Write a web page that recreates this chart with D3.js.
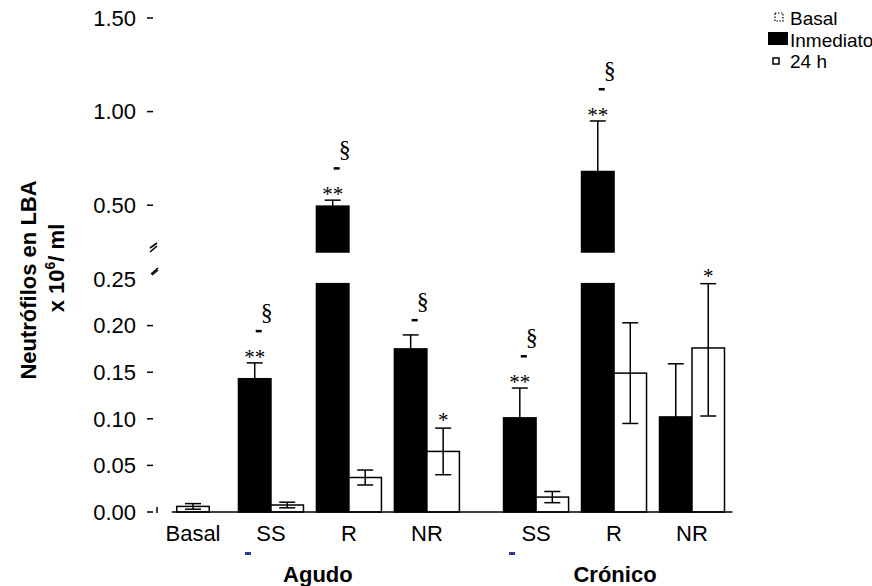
<!DOCTYPE html>
<html>
<head>
<meta charset="utf-8">
<script src="https://cdn.jsdelivr.net/npm/d3@7"></script>
<style>
    body { margin: 0; background: #fff; }
    text { font-family: "Liberation Sans", Arial, sans-serif; }
    .serif { font-family: "Liberation Serif", "Times New Roman", serif; }
</style>
</head>
<body>
<div id="chart"></div>
<script>

// Data
var categories = ["Basal", "SS", "R", "NR", "SS", "R", "NR"];
var phases = ["Agudo", "Crónico"];
var basalValue = [0.006];
var basalError = [0.003];
// SS, R, NR (Agudo) then SS, R, NR (Crónico)
var inmediato = [0.143, 0.495, 0.175, 0.101, 0.680, 0.102];
var inmediatoErr = [0.017, 0.032, 0.015, 0.032, 0.270, 0.057];
var h24 = [0.0075, 0.037, 0.065, 0.016, 0.149, 0.176];
var h24Err = [0.003, 0.008, 0.025, 0.006, 0.054, 0.073];
var inmediatoMarks = [["**", "-", "§"], ["**", "-", "§"], ["-", "§"], ["**", "-", "§"], ["**", "-", "§"], []];
var h24Marks = ["", "", "*", "", "", "*"];
var lowTicks = [0, 0.05, 0.10, 0.15, 0.20, 0.25];
var highTicks = [0.50, 1.00, 1.50];
var legendLabels = ["Basal", "Inmediato", "24 h"];

var width = 872, height = 586;

var svg = d3.select("#chart").append("svg")
    .attr("width", width)
    .attr("height", height);

// Broken y axis: two linear pieces
var baseY = 512;
var breakLow = 0.245;
var yLow = d3.scaleLinear().domain([0, 0.25]).range([baseY, 279]);
var yHigh = d3.scaleLinear().domain([0.25, 1.5]).range([252, 18]);
var yPos = function(v) { return v <= breakLow ? yLow(v) : yHigh(v); };

// x slots, with a small gap between Agudo and Crónico
var slot = function(i) { return i >= 4 ? i + 0.4 : i; };
var x = d3.scaleLinear().domain([0, slot(6)]).range([193, 692]);
var barW = 32.5;
var capW = 16;

// Build the bar list
var bars = [{ x0: x(0) - barW / 2, v: basalValue[0], err: basalError[0], fill: "#fff", both: true, marks: [] }];
inmediato.forEach(function(v, i) {
    var cx = x(slot(i + 1));
    bars.push({ x0: cx - barW, v: v, err: inmediatoErr[i], fill: "#000", both: false, marks: inmediatoMarks[i] });
    bars.push({ x0: cx, v: h24[i], err: h24Err[i], fill: "#fff", both: true, marks: h24Marks[i] ? [h24Marks[i]] : [] });
});

var barG = svg.append("g");

bars.forEach(function(b) {
    var pieces = b.v <= breakLow ? [[0, b.v, yLow]] : [[0, breakLow, yLow], [0.25, b.v, yHigh]];
    pieces.forEach(function(p) {
        barG.append("rect")
            .attr("x", b.x0)
            .attr("y", p[2](p[1]))
            .attr("width", barW)
            .attr("height", p[2](p[0]) - p[2](p[1]))
            .attr("fill", b.fill)
            .attr("stroke", "#000")
            .attr("stroke-width", 1.5);
    });

    // Error bars
    var cx = b.x0 + barW / 2;
    var hi = b.v + b.err;
    if (b.v <= breakLow) hi = Math.min(hi, breakLow);
    var lo = b.both ? b.v - b.err : b.v;
    var yTop = yPos(hi), yBot = yPos(lo);
    barG.append("line")
        .attr("x1", cx).attr("x2", cx)
        .attr("y1", yTop).attr("y2", yBot)
        .attr("stroke", "#000").attr("stroke-width", 1.5);
    barG.append("line")
        .attr("x1", cx - capW / 2).attr("x2", cx + capW / 2)
        .attr("y1", yTop).attr("y2", yTop)
        .attr("stroke", "#000").attr("stroke-width", 1.5);
    if (b.both) {
        barG.append("line")
            .attr("x1", cx - capW / 2).attr("x2", cx + capW / 2)
            .attr("y1", yBot).attr("y2", yBot)
            .attr("stroke", "#000").attr("stroke-width", 1.5);
    }

    // Significance marks stacked above the error bar
    var hasStars = b.marks.indexOf("**") >= 0;
    b.marks.forEach(function(m) {
        if (m === "**") {
            barG.append("text").attr("class", "serif")
                .attr("x", cx).attr("y", yTop + 1)
                .attr("text-anchor", "middle")
                .style("font-size", "21px")
                .text("**");
        } else if (m === "*") {
            barG.append("text").attr("class", "serif")
                .attr("x", cx).attr("y", yTop - 1)
                .attr("text-anchor", "middle")
                .style("font-size", "21px")
                .text("*");
        } else if (m === "-") {
            var dy = hasStars ? 32 : 15;
            barG.append("rect")
                .attr("x", cx + 1).attr("y", yTop - dy - 1)
                .attr("width", 6).attr("height", 2.5)
                .attr("fill", "#000");
        } else if (m === "§") {
            var dy2 = hasStars ? 50 : 33;
            barG.append("text").attr("class", "serif")
                .attr("x", cx + 12).attr("y", yTop - dy2 + 7)
                .attr("text-anchor", "middle")
                .style("font-size", "24px")
                .text("§");
        }
    });
});

// Baseline
svg.append("line")
    .attr("x1", x(0) - barW / 2 - 5).attr("x2", x(slot(6)) + barW + 8)
    .attr("y1", baseY).attr("y2", baseY)
    .attr("stroke", "#000").attr("stroke-width", 1.5);

// Y axis: tick dashes and labels, no axis line
var axisG = svg.append("g");
var tickList = lowTicks.map(function(t) { return { v: t, y: yLow(t), dash: t < 0.25 }; })
    .concat(highTicks.map(function(t) { return { v: t, y: yHigh(t), dash: true }; }));

tickList.forEach(function(t) {
    axisG.append("text")
        .attr("x", 136).attr("y", t.y)
        .attr("dy", "0.35em")
        .attr("text-anchor", "end")
        .style("font-size", "22px")
        .text(d3.format(".2f")(t.v));
    if (t.dash) {
        axisG.append("line")
            .attr("x1", 147).attr("x2", 153)
            .attr("y1", t.y).attr("y2", t.y)
            .attr("stroke", "#000").attr("stroke-width", 1.5);
    }
});
// small extra mark at zero
axisG.append("line")
    .attr("x1", 157).attr("x2", 157)
    .attr("y1", baseY - 5).attr("y2", baseY + 1)
    .attr("stroke", "#000").attr("stroke-width", 1.5);

// Break marks
var brk = axisG.append("g").attr("stroke", "#000").attr("stroke-width", 1.6);
brk.append("line").attr("x1", 150).attr("y1", 252).attr("x2", 157).attr("y2", 246);
brk.append("line").attr("x1", 150).attr("y1", 248).attr("x2", 157).attr("y2", 243);
brk.append("line").attr("x1", 151).attr("y1", 274).attr("x2", 158).attr("y2", 268);
brk.append("line").attr("x1", 152).attr("y1", 275).attr("x2", 158).attr("y2", 270);

// Y axis title
svg.append("text")
    .attr("transform", "translate(36,280) rotate(-90)")
    .attr("text-anchor", "middle")
    .style("font-size", "22px")
    .style("font-weight", "bold")
    .text("Neutrófilos en LBA");

var t2 = svg.append("text")
    .attr("transform", "translate(64,268) rotate(-90)")
    .attr("text-anchor", "middle")
    .style("font-size", "22px")
    .style("font-weight", "bold");
t2.append("tspan").text("x 10");
t2.append("tspan").attr("dy", -9).style("font-size", "14px").text("6");
t2.append("tspan").attr("dy", 9).text("/ ml");

// Category labels
categories.forEach(function(c, i) {
    svg.append("text")
        .attr("x", x(slot(i))).attr("y", 541)
        .attr("text-anchor", "middle")
        .style("font-size", "22px")
        .text(c);
});

// Phase labels and the small blue marks
var phaseX = [x(slot(2)) - 31, x(slot(5)) + 1];
phases.forEach(function(p, i) {
    svg.append("text")
        .attr("x", phaseX[i]).attr("y", 582)
        .attr("text-anchor", "middle")
        .style("font-size", "22px")
        .style("font-weight", "bold")
        .text(p);
});
[x(slot(1)) - 26, x(slot(4)) - 27].forEach(function(bx) {
    svg.append("rect")
        .attr("x", bx).attr("y", 552)
        .attr("width", 6).attr("height", 3)
        .attr("fill", "#2b3990");
});

// Legend
var legendG = svg.append("g").attr("transform", "translate(768,0)");
legendLabels.forEach(function(l, i) {
    legendG.append("text")
        .attr("x", 22).attr("y", 25 + i * 21.5)
        .style("font-size", "19px")
        .text(l);
});
legendG.append("rect")
    .attr("x", 7).attr("y", 13).attr("width", 8).attr("height", 8)
    .attr("fill", "none").attr("stroke", "#000").attr("stroke-width", 1.2)
    .attr("stroke-dasharray", "1.5,1.5");
legendG.append("rect")
    .attr("x", 0).attr("y", 32).attr("width", 20).attr("height", 13)
    .attr("fill", "#000");
legendG.append("rect")
    .attr("x", 5).attr("y", 58).attr("width", 6).attr("height", 6)
    .attr("fill", "#fff").attr("stroke", "#000").attr("stroke-width", 1.5);

</script>
</body>
</html>
